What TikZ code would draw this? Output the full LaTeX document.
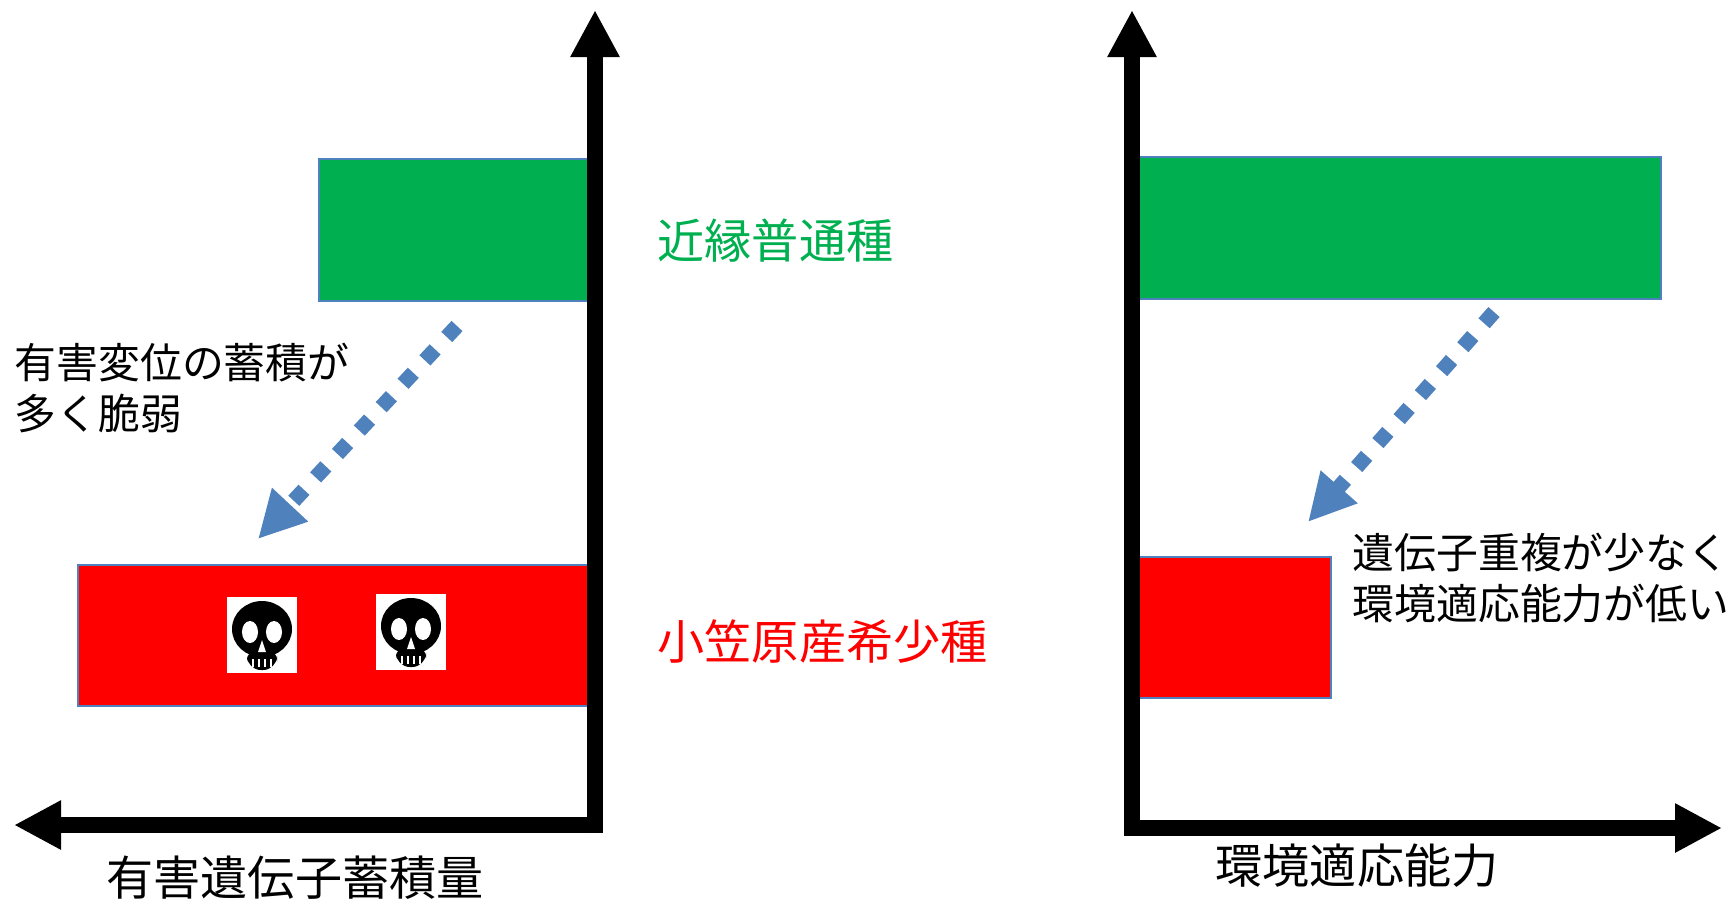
\documentclass[tikz,border=0pt]{standalone}
\usepackage{fontspec}
\setmainfont{Noto Sans CJK JP}
\usetikzlibrary{arrows.meta}
\definecolor{barline}{HTML}{4F81BD}
\definecolor{dotblue}{HTML}{4F81BD}
\definecolor{okgreen}{HTML}{00B050}
\definecolor{badred}{HTML}{FF0000}
\tikzset{skullface/.pic={
\fill[black] (0,-6) ellipse [x radius=30,y radius=28];
\fill[black,rounded corners=4] (-15,12) rectangle (15,35);
\fill[white] (-12,-3) ellipse [x radius=8,y radius=11];
\fill[white] (12,-3) ellipse [x radius=8,y radius=11];
\fill[white] (0,5) -- (-4,17) -- (4,17) -- cycle;
\foreach \t in {-9,-3,3,9}
  \draw[white,line width=0.025cm] (\t,24) -- (\t,32);
}}
\begin{document}
\begin{tikzpicture}[x=0.01cm,y=-0.01cm]
\tikzstyle{axis}=[line width=0.16cm,line join=miter,-{Triangle[length=0.47cm,width=0.46cm]}]
\tikzstyle{bar}=[draw=barline,line width=0.6pt,anchor=north west,inner sep=0pt]
\tikzstyle{big}=[inner sep=0pt,font=\fontsize{13.4pt}{16pt}\selectfont]
\tikzstyle{note}=[inner sep=0pt,align=left,font=\fontsize{11.9pt}{14.4pt}\selectfont]
\tikzstyle{drift}=[dotblue,line width=0.15cm,dash pattern=on 0.15cm off 0.17cm,-{Triangle[length=0.47cm,width=0.46cm]}]
\tikzstyle{skullbox}=[fill=white,minimum width=0.69cm,minimum height=0.76cm,inner sep=0pt]
\useasboundingbox (0,0) rectangle (1734,902);
\node[bar,fill=okgreen,minimum width=2.77cm,minimum height=1.42cm] (gL) at (318,158) {};
\node[bar,fill=badred,minimum width=5.18cm,minimum height=1.41cm] (rL) at (77,564) {};
\node[skullbox] (sk1) at (262,635) {};
\node[skullbox] (sk2) at (411,632) {};
\pic at (sk1.center) {skullface};
\pic at (sk2.center) {skullface};
\node[bar,fill=okgreen,minimum width=5.28cm,minimum height=1.42cm] (gR) at (1132,156) {};
\node[bar,fill=badred,minimum width=1.98cm,minimum height=1.41cm] (rR) at (1132,556) {};
\coordinate (oL) at (595,825);
\coordinate (bL) at (595,833);
\coordinate (yL) at (595,10);
\coordinate (xL) at (14,825);
\coordinate (oR) at (1132,828);
\coordinate (bR) at (1132,836);
\coordinate (yR) at (1132,10);
\coordinate (xR) at (1722,828);
\draw[axis] (bL) -- (yL);
\draw[axis] (oL) -- (xL);
\draw[axis] (bR) -- (yR);
\draw[axis] (oR) -- (xR);
\node[big,anchor=west,text=okgreen] (common) at (657,241) {近縁普通種};
\node[big,anchor=west,text=badred] (rare) at (657,642) {小笠原産希少種};
\node[note,anchor=west] (fragile) at (14,388) {有害変位の蓄積が\\多く脆弱};
\node[note,anchor=west] (weak) at (1352,578) {遺伝子重複が少なく\\環境適応能力が低い};
\node[big] (loadlab) at (295,878) {有害遺伝子蓄積量};
\node[big] (adaptlab) at (1357,866) {環境適応能力};
\coordinate (dL) at (457,326);
\coordinate (tL) at (258,539);
\coordinate (dR) at (1494,312);
\coordinate (tR) at (1308,522);
\draw[drift] (dL) -- (tL);
\draw[drift] (dR) -- (tR);
\end{tikzpicture}
\end{document}
